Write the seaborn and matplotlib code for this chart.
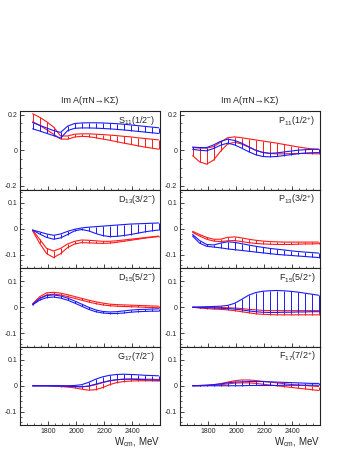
import numpy as np
import pandas as pd
import matplotlib
matplotlib.use("Agg")
import matplotlib.pyplot as plt
from matplotlib.ticker import MultipleLocator, FixedLocator, FixedFormatter
import seaborn as sns

# ---------------- data ----------------
W = [1690, 1740, 1790, 1840, 1890, 1940, 1990, 2040, 2090, 2140,
     2190, 2240, 2290, 2340, 2390, 2440, 2490, 2540, 2590]

labels = [r"S$_{11}$(1/2$^{-}$)", r"P$_{11}$(1/2$^{+}$)",
          r"D$_{13}$(3/2$^{-}$)", r"P$_{13}$(3/2$^{+}$)",
          r"D$_{15}$(5/2$^{-}$)", r"F$_{15}$(5/2$^{+}$)",
          r"G$_{17}$(7/2$^{-}$)", r"F$_{17}$(7/2$^{+}$)"]

S11_red_hi = [0.205, 0.185, 0.160, 0.130, 0.080, 0.080, 0.090, 0.092, 0.092, 0.090,
              0.088, 0.085, 0.082, 0.078, 0.075, 0.070, 0.066, 0.062, 0.058]
S11_red_lo = [0.160, 0.140, 0.115, 0.090, 0.063, 0.062, 0.074, 0.078, 0.076, 0.070,
              0.063, 0.056, 0.048, 0.040, 0.033, 0.025, 0.018, 0.012, 0.006]
S11_blue_hi = [0.155, 0.140, 0.125, 0.110, 0.100, 0.135, 0.150, 0.153, 0.154, 0.154,
               0.153, 0.151, 0.149, 0.146, 0.142, 0.138, 0.134, 0.130, 0.126]
S11_blue_lo = [0.120, 0.108, 0.095, 0.082, 0.068, 0.110, 0.123, 0.125, 0.125, 0.124,
               0.122, 0.120, 0.117, 0.114, 0.110, 0.106, 0.102, 0.098, 0.094]

P11_red_hi = [0.015, 0.012, 0.012, 0.020, 0.045, 0.070, 0.075, 0.070, 0.064, 0.058,
              0.052, 0.046, 0.040, 0.033, 0.026, 0.019, 0.013, 0.008, 0.005]
P11_red_lo = [-0.030, -0.065, -0.078, -0.055, -0.005, 0.035, 0.045, 0.035, 0.018, 0.000,
              -0.012, -0.018, -0.020, -0.020, -0.019, -0.018, -0.018, -0.019, -0.020]
P11_blue_hi = [0.018, 0.015, 0.015, 0.030, 0.050, 0.062, 0.055, 0.040, 0.020, 0.000,
               -0.012, -0.017, -0.015, -0.010, -0.005, 0.000, 0.003, 0.005, 0.006]
P11_blue_lo = [0.005, 0.000, -0.003, 0.010, 0.028, 0.040, 0.030, 0.012, -0.008, -0.025,
               -0.035, -0.037, -0.035, -0.030, -0.025, -0.020, -0.016, -0.014, -0.013]

D13_red_hi = [-0.005, -0.040, -0.075, -0.085, -0.075, -0.058, -0.048, -0.043, -0.044, -0.046,
              -0.048, -0.048, -0.046, -0.043, -0.040, -0.037, -0.034, -0.031, -0.028]
D13_red_lo = [-0.008, -0.055, -0.095, -0.110, -0.095, -0.072, -0.058, -0.053, -0.054, -0.055,
              -0.056, -0.055, -0.052, -0.048, -0.044, -0.040, -0.036, -0.033, -0.030]
D13_blue_hi = [-0.005, -0.012, -0.020, -0.025, -0.020, -0.010, -0.002, 0.003, 0.006, 0.008,
               0.010, 0.012, 0.014, 0.016, 0.018, 0.019, 0.020, 0.021, 0.022]
D13_blue_lo = [-0.005, -0.020, -0.033, -0.040, -0.035, -0.022, -0.008, -0.003, -0.008, -0.018,
               -0.026, -0.030, -0.029, -0.026, -0.022, -0.017, -0.012, -0.008, -0.005]

P13_red_hi = [-0.010, -0.022, -0.033, -0.040, -0.040, -0.033, -0.031, -0.035, -0.040, -0.044,
              -0.047, -0.049, -0.050, -0.051, -0.051, -0.051, -0.051, -0.051, -0.051]
P13_red_lo = [-0.014, -0.028, -0.040, -0.047, -0.049, -0.046, -0.045, -0.049, -0.053, -0.056,
              -0.058, -0.059, -0.060, -0.060, -0.060, -0.059, -0.058, -0.058, -0.057]
P13_blue_hi = [-0.022, -0.045, -0.060, -0.062, -0.055, -0.050, -0.052, -0.057, -0.062, -0.067,
               -0.071, -0.075, -0.078, -0.081, -0.084, -0.087, -0.089, -0.091, -0.093]
P13_blue_lo = [-0.028, -0.055, -0.067, -0.070, -0.073, -0.077, -0.080, -0.083, -0.086, -0.089,
               -0.092, -0.095, -0.098, -0.100, -0.102, -0.104, -0.106, -0.108, -0.110]

D15_red_hi = [0.013, 0.040, 0.055, 0.057, 0.054, 0.048, 0.041, 0.034, 0.027, 0.021,
              0.016, 0.012, 0.010, 0.009, 0.008, 0.007, 0.006, 0.005, 0.004]
D15_red_lo = [0.011, 0.034, 0.047, 0.050, 0.047, 0.041, 0.034, 0.027, 0.020, 0.014,
              0.009, 0.006, 0.004, 0.003, 0.002, 0.001, 0.000, -0.001, -0.002]
D15_blue_hi = [0.011, 0.033, 0.045, 0.047, 0.043, 0.035, 0.024, 0.012, 0.000, -0.010,
               -0.016, -0.018, -0.017, -0.014, -0.011, -0.009, -0.008, -0.007, -0.006]
D15_blue_lo = [0.009, 0.027, 0.037, 0.039, 0.035, 0.027, 0.016, 0.004, -0.008, -0.017,
               -0.022, -0.024, -0.024, -0.022, -0.019, -0.017, -0.016, -0.015, -0.015]

F15_red_hi = [0.000, 0.000, 0.000, 0.000, -0.001, -0.002, -0.003, -0.005, -0.008, -0.010,
              -0.012, -0.013, -0.013, -0.013, -0.013, -0.013, -0.013, -0.013, -0.013]
F15_red_lo = [0.000, -0.003, -0.005, -0.007, -0.008, -0.010, -0.013, -0.017, -0.021, -0.025,
              -0.027, -0.028, -0.029, -0.029, -0.029, -0.029, -0.029, -0.029, -0.029]
F15_blue_hi = [0.000, 0.001, 0.002, 0.003, 0.004, 0.007, 0.015, 0.030, 0.046, 0.056,
               0.061, 0.063, 0.064, 0.063, 0.061, 0.058, 0.054, 0.050, 0.046]
F15_blue_lo = [0.000, -0.001, -0.002, -0.003, -0.004, -0.005, -0.007, -0.010, -0.014, -0.017,
               -0.019, -0.020, -0.020, -0.019, -0.019, -0.018, -0.018, -0.017, -0.017]

G17_red_hi = [0.000, 0.000, 0.000, 0.000, -0.001, -0.002, -0.003, -0.004, -0.002, 0.004,
              0.012, 0.019, 0.023, 0.025, 0.026, 0.026, 0.025, 0.025, 0.024]
G17_red_lo = [0.000, 0.000, 0.000, -0.001, -0.003, -0.005, -0.008, -0.013, -0.017, -0.015,
              -0.007, 0.004, 0.012, 0.016, 0.018, 0.019, 0.019, 0.019, 0.018]
G17_blue_hi = [0.000, 0.000, 0.000, 0.000, 0.000, 0.000, 0.001, 0.004, 0.013, 0.025,
               0.034, 0.040, 0.043, 0.044, 0.043, 0.042, 0.040, 0.039, 0.038]
G17_blue_lo = [0.000, 0.000, 0.000, -0.001, -0.001, -0.002, -0.003, -0.004, -0.001, 0.006,
               0.013, 0.019, 0.023, 0.025, 0.025, 0.024, 0.023, 0.022, 0.021]

F17_red_hi = [0.000, 0.001, 0.002, 0.004, 0.008, 0.014, 0.019, 0.022, 0.022, 0.020,
              0.017, 0.014, 0.011, 0.008, 0.005, 0.003, 0.001, -0.001, -0.003]
F17_red_lo = [0.000, 0.000, 0.001, 0.002, 0.004, 0.007, 0.010, 0.011, 0.011, 0.009,
              0.006, 0.003, 0.000, -0.003, -0.006, -0.009, -0.012, -0.015, -0.018]
F17_blue_hi = [0.000, 0.001, 0.002, 0.004, 0.007, 0.011, 0.014, 0.015, 0.016, 0.016,
               0.016, 0.015, 0.014, 0.013, 0.012, 0.011, 0.010, 0.009, 0.009]
F17_blue_lo = [0.000, 0.000, 0.000, 0.000, 0.000, 0.000, 0.000, 0.000, 0.001, 0.001,
               0.001, 0.001, 0.001, 0.002, 0.002, 0.002, 0.002, 0.002, 0.002]

bands = [
    (S11_red_hi, S11_red_lo, S11_blue_hi, S11_blue_lo),
    (P11_red_hi, P11_red_lo, P11_blue_hi, P11_blue_lo),
    (D13_red_hi, D13_red_lo, D13_blue_hi, D13_blue_lo),
    (P13_red_hi, P13_red_lo, P13_blue_hi, P13_blue_lo),
    (D15_red_hi, D15_red_lo, D15_blue_hi, D15_blue_lo),
    (F15_red_hi, F15_red_lo, F15_blue_hi, F15_blue_lo),
    (G17_red_hi, G17_red_lo, G17_blue_hi, G17_blue_lo),
    (F17_red_hi, F17_red_lo, F17_blue_hi, F17_blue_lo),
]

xticks = [1800, 2000, 2200, 2400]
xticklabels = ["1800", "2000", "2200", "2400"]
yticks_top = [-0.2, 0.0, 0.2]
yticklabels_top = ["-0.2", "0", "0.2"]
yticks_rest = [-0.1, 0.0, 0.1]
yticklabels_rest = ["-0.1", "0", "0.1"]

col_title = "Im A(\u03c0N\u2192K\u03a3)"
xlabel = r"W$_{cm}$, MeV"

# ---------------- style ----------------
sns.set_style("ticks")
plt.rcParams['font.family'] = ['Liberation Sans', 'DejaVu Sans']
plt.rcParams['mathtext.default'] = 'regular'
plt.rcParams['axes.unicode_minus'] = False

RED = "#ff1a1a"
BLUE = "#1a1aff"

fig = plt.figure(figsize=(3.49, 4.51), dpi=100)
W_px, H_px = 349, 451
left_x = [20, 180]
ax_w = 140
top_px = 111
row_h = 78.5

for i, (rh, rl, bh, bl) in enumerate(bands):
    row, col = divmod(i, 2)
    y0 = top_px + row * row_h
    ax = fig.add_axes([left_x[col] / W_px, 1 - (y0 + row_h) / H_px,
                       ax_w / W_px, row_h / H_px])
    for hi, lo, c in ((rh, rl, RED), (bh, bl, BLUE)):
        sns.lineplot(x=W, y=hi, color=c, lw=0.8, ax=ax, estimator=None)
        sns.lineplot(x=W, y=lo, color=c, lw=0.8, ax=ax, estimator=None)
        ax.vlines(W, lo, hi, colors=c, lw=0.7)
    ax.set_xlim(1600, 2600)
    if row == 0:
        ax.set_ylim(-0.22, 0.22)
        ax.yaxis.set_major_locator(FixedLocator(yticks_top))
        ax.yaxis.set_major_formatter(FixedFormatter(yticklabels_top))
        ax.yaxis.set_minor_locator(MultipleLocator(0.05))
    else:
        ax.set_ylim(-0.15, 0.15)
        ax.yaxis.set_major_locator(FixedLocator(yticks_rest))
        ax.yaxis.set_major_formatter(FixedFormatter(yticklabels_rest))
        ax.yaxis.set_minor_locator(MultipleLocator(0.02))
    ax.xaxis.set_major_locator(FixedLocator(xticks))
    ax.xaxis.set_minor_locator(MultipleLocator(50))
    if row == 3:
        ax.xaxis.set_major_formatter(FixedFormatter(xticklabels))
    else:
        ax.set_xticklabels([])
    ax.tick_params(which='major', direction='in', length=3.0, width=0.6,
                   labelsize=5, pad=2, top=False, right=False)
    ax.tick_params(which='minor', direction='in', length=1.5, width=0.5,
                   top=False, right=False)
    for s in ax.spines.values():
        s.set_linewidth(0.8)
        s.set_color('#222222')
    ax.text(0.97, 0.96, labels[i], transform=ax.transAxes, ha='right', va='top',
            fontsize=6.5)
    ax.set_xlabel("")
    ax.set_ylabel("")

for col in range(2):
    cx = (left_x[col] + ax_w / 2) / W_px
    fig.text(cx, 1 - 101 / H_px, col_title, ha='center', va='center', fontsize=6.5)
    fig.text((left_x[col] + ax_w) / W_px, 1 - 442 / H_px, xlabel,
             ha='right', va='center', fontsize=7)

fig.savefig("out.png", dpi=100)
